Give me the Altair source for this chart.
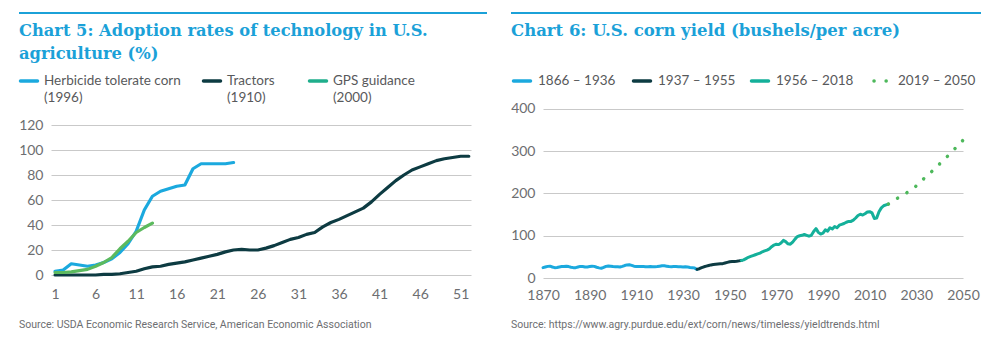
import altair as alt
import pandas as pd

# ---------------- Chart 5 data: adoption rates (%) by year since introduction
adopt_x_ticks = [1, 6, 11, 16, 21, 26, 31, 36, 41, 46, 51]
adopt_y_ticks = [0, 20, 40, 60, 80, 100, 120]
herbicide = [3, 4, 9, 8, 7, 8, 10, 13, 18, 25, 35, 52, 63, 67, 69, 71, 72, 85, 89, 89, 89, 89, 90]
tractors = [0, 0, 0, 0, 0, 0, 0.5, 0.5, 1, 2, 3, 5, 6.5, 7, 8.5, 9.5, 10.5, 12, 13.5, 15,
            16.5, 18.5, 20, 20.5, 20, 20, 21.5, 23.5, 26, 28.5, 30, 32.5, 34, 38.5, 42, 44.5,
            47.5, 50.5, 53.5, 58.5, 64.5, 70, 75.5, 80, 84, 86.5, 89, 91.5, 93, 94, 95, 95]
gps = [2, 2, 2.5, 3.5, 4.5, 7, 10, 14, 21, 27, 34, 38, 41.5]

adopt_names = ["Tractors", "Herbicide tolerate corn", "GPS guidance"]
adopt_years = ["(1910)", "(1996)", "(2000)"]
adopt_line_colors = ["#0d3b42", "#1ba9de", "#5cba5e"]
adopt_legend_colors = ["#0d3b42", "#1ba9de", "#1fae8c"]

# ---------------- Chart 6 data: U.S. corn yield (bushels per acre)
early_years = list(range(1870, 1937))
early_yield = [24.5, 26, 27.5, 28, 26, 24.5, 25, 26, 27, 27, 28, 27, 25.5, 24.5, 24.5, 26,
               27.5, 27, 26, 26, 27, 28, 27.5, 25.5, 24, 23, 25, 27.5, 28.5, 28, 27, 26.5,
               26.5, 26, 27.5, 29.5, 31, 31.5, 30, 28, 27, 27, 27.5, 27, 26.5, 26.5, 27,
               26.5, 26.5, 27, 28, 29, 29, 28, 27, 26.5, 27, 27, 26.5, 26.5, 26, 26.5, 26,
               25, 24.5, 23.5, 20.5]
mid_years = list(range(1937, 1956))
mid_yield = [22, 24.5, 26.5, 28, 29.5, 31, 32, 32.5, 33, 33.5, 34, 35.5, 37, 38.5, 39, 39,
             39.5, 40.5, 41.5]
late_years = list(range(1956, 2019))
late_yield = [43, 46, 49, 51, 53, 55, 57, 59, 62, 64, 66, 69, 74, 78, 80, 79, 83, 89, 86, 81,
              80, 85, 92, 98, 100, 101, 103, 101, 99, 101, 110, 117, 108, 104, 106, 114, 111,
              119, 116, 122, 119, 125, 127, 129, 132, 134, 134, 137, 142, 148, 151, 149, 152,
              156, 157, 154, 141, 142, 157, 166, 171, 173, 175]
proj_years = list(range(2019, 2051))
proj_yield = [179, 183, 186, 189, 192, 195, 199, 202, 206, 210, 214, 218, 223, 229, 234, 239,
              244, 249, 254, 259, 264, 270, 275, 281, 286, 292, 298, 303, 309, 314, 320, 326]
yield_x_ticks = [1870, 1890, 1910, 1930, 1950, 1970, 1990, 2010, 2030, 2050]
yield_y_ticks = [0, 100, 200, 300, 400]
yield_names = ["1866 \u2013 1936", "1937 \u2013 1955", "1956 \u2013 2018", "2019 \u2013 2050"]
yield_colors = ["#1ba9de", "#0d3b42", "#14b09a", "#4db85b"]

TITLE_BLUE = "#1ba1d8"
TEXT_GRAY = "#58595b"
LABEL_GRAY = "#6d6e71"
GRID = "#c9c9c9"
LABEL_FONT = "Lato"
TITLE_FONT = "DejaVu Serif"
SOURCE_FONT = "Liberation Sans Narrow, Roboto, sans-serif"

one = pd.DataFrame({"k": [0]})


def txt(s, x, y, size=13.5, color=TEXT_GRAY, font=LABEL_FONT, weight="normal", baseline="middle"):
    return alt.Chart(one).mark_text(
        align="left", baseline=baseline, font=font, fontSize=size, color=color,
        fontWeight=weight
    ).encode(x=alt.value(x), y=alt.value(y), text=alt.value(s))


def hrule(x1, x2, y, color, width=2, cap="butt", dash=None):
    kw = dict(color=color, strokeWidth=width, strokeCap=cap)
    if dash is not None:
        kw["strokeDash"] = dash
    return alt.Chart(one).mark_rule(**kw).encode(x=alt.value(x1), x2=alt.value(x2), y=alt.value(y))


# ---------------- Left panel
LW, LH = 420, 262
x_left = alt.X("t:Q", scale=alt.Scale(domain=[0.5, 52.27], nice=False, zero=False),
               axis=alt.Axis(values=adopt_x_ticks, grid=False, domain=False, ticks=False,
                             labelPadding=12, labelFont=LABEL_FONT, labelFontSize=14,
                             labelColor=LABEL_GRAY, title=None, labelFlush=False))
y_left = alt.Y("v:Q", scale=alt.Scale(domain=[0, 209.6], nice=False),
               axis=alt.Axis(values=adopt_y_ticks, grid=True, gridColor=GRID, domain=False,
                             ticks=False, labelPadding=8, labelFont=LABEL_FONT, labelFontSize=14,
                             labelColor=LABEL_GRAY, title=None))

series_vals = [tractors, herbicide, gps]
left_layers = []
for i, (name, vals) in enumerate(zip(adopt_names, series_vals)):
    df = pd.DataFrame({"t": list(range(1, len(vals) + 1)), "v": vals})
    enc = dict(x=x_left, y=y_left) if i == 0 else dict(x="t:Q", y="v:Q")
    left_layers.append(
        alt.Chart(df).mark_line(color=adopt_line_colors[i], strokeWidth=3.2, strokeCap="round",
                                strokeJoin="round").encode(**enc)
    )

left_layers.append(hrule(-32, 436, 0, TITLE_BLUE))
left_layers.append(txt("Chart 5: Adoption rates of technology in U.S.", -32, 23, size=16.3,
                       color=TITLE_BLUE, font=TITLE_FONT, weight="bold",
                       baseline="alphabetic"))
left_layers.append(txt("agriculture (%)", -32, 46, size=16.3, color=TITLE_BLUE,
                       font=TITLE_FONT, weight="bold", baseline="alphabetic"))
leg_order = [1, 0, 2]
leg_x = [-32, 151, 257]
for pos, idx in zip(leg_x, leg_order):
    left_layers.append(hrule(pos + 1.5, pos + 18.5, 68, adopt_legend_colors[idx], width=3.5, cap="round"))
    left_layers.append(txt(adopt_names[idx], pos + 25, 68))
    left_layers.append(txt(adopt_years[idx], pos + 25, 85))
left_layers.append(txt("Source: USDA Economic Research Service, American Economic Association",
                       -32, 312, size=10.5, color=LABEL_GRAY, font=SOURCE_FONT))

left = alt.layer(*left_layers).properties(width=LW, height=LH)

# ---------------- Right panel
RW, RH = 420, 265
x_right = alt.X("yr:Q", scale=alt.Scale(domain=[1870, 2050], nice=False, zero=False),
                axis=alt.Axis(values=yield_x_ticks, format="d", grid=False, domain=False,
                              ticks=False, labelPadding=10, labelFont=LABEL_FONT, labelFontSize=14,
                              labelColor=LABEL_GRAY, title=None, labelFlush=False))
y_right = alt.Y("v:Q", scale=alt.Scale(domain=[0, 627.2], nice=False),
                axis=alt.Axis(values=yield_y_ticks, grid=True, gridColor=GRID, domain=False,
                              ticks=False, labelPadding=8, labelFont=LABEL_FONT, labelFontSize=14,
                              labelColor=LABEL_GRAY, title=None))

seg_years = [early_years, mid_years, late_years, proj_years]
seg_vals = [early_yield, mid_yield, late_yield, proj_yield]
right_layers = []
for i in range(4):
    yrs, vals = list(seg_years[i]), list(seg_vals[i])
    if i > 0:  # connect to the last point of the previous segment
        yrs = [seg_years[i - 1][-1]] + yrs
        vals = [seg_vals[i - 1][-1]] + vals
    df = pd.DataFrame({"yr": yrs, "v": vals})
    enc = dict(x=x_right, y=y_right) if i == 0 else dict(x="yr:Q", y="v:Q")
    if i < 3:
        mk = alt.Chart(df).mark_line(color=yield_colors[i], strokeWidth=3, strokeCap="round",
                                     strokeJoin="round")
    else:
        mk = alt.Chart(df).mark_line(color=yield_colors[i], strokeWidth=3.5, strokeCap="round",
                                     strokeDash=[0.1, 10.8])
    right_layers.append(mk.encode(**enc))

right_layers.append(hrule(-32, 438, 0, TITLE_BLUE))
right_layers.append(txt("Chart 6: U.S. corn yield (bushels/per acre)", -32, 23, size=16.5,
                        color=TITLE_BLUE, font=TITLE_FONT, weight="bold",
                        baseline="alphabetic"))
rleg_x = [-31, 89, 207, 325]
for i, pos in enumerate(rleg_x):
    if i < 3:
        right_layers.append(hrule(pos + 1.5, pos + 18.5, 68, yield_colors[i], width=3.5, cap="round"))
        right_layers.append(txt(yield_names[i], pos + 26, 68))
    else:
        right_layers.append(hrule(pos + 6, pos + 18.2, 68, yield_colors[i], width=3.5, cap="round",
                                  dash=[0.1, 12]))
        right_layers.append(txt(yield_names[i], pos + 30, 68))
right_layers.append(txt("Source: https://www.agry.purdue.edu/ext/corn/news/timeless/yieldtrends.html",
                        -32, 312, size=10.5, color=LABEL_GRAY, font=SOURCE_FONT))

right = alt.layer(*right_layers).properties(width=RW, height=RH)

chart = alt.hconcat(left, right, spacing=22).properties(
    padding={"left": 18, "top": 12, "right": 4, "bottom": 4},
    background="white",
).configure_view(stroke=None)

chart.save("out.html", embed_options={"renderer": "svg", "actions": False})
